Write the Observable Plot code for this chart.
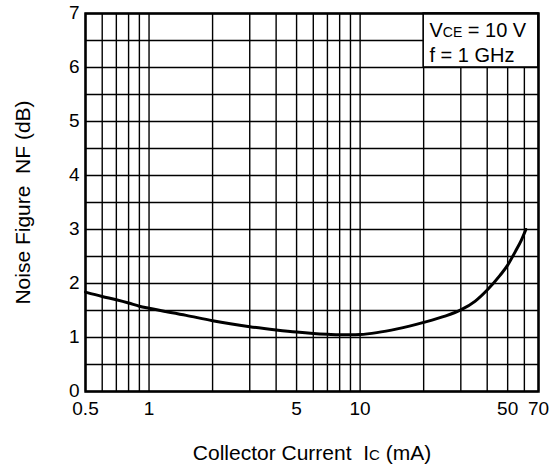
<!DOCTYPE html>
<html>
<head>
<meta charset="utf-8">
<script src="https://cdn.jsdelivr.net/npm/d3@7"></script>
<script src="https://cdn.jsdelivr.net/npm/@observablehq/plot@0.6"></script>
<style>
  html, body { margin: 0; padding: 0; background: #fff; }
  #chart svg { display: block; }
</style>
</head>
<body>
<div id="chart"></div>
<script>
// Collector current (mA) and noise figure (dB)
const collectorCurrent = [0.5, 0.6, 0.7, 0.8, 0.9, 1, 1.5, 2, 3, 4, 5, 6, 7, 8, 9, 10, 12, 15, 20, 25, 30, 35, 40, 46, 50, 54.5, 58, 61];
const noiseFigure      = [1.84, 1.76, 1.70, 1.64, 1.58, 1.54, 1.41, 1.31, 1.20, 1.14, 1.10, 1.075, 1.06, 1.05, 1.05, 1.055, 1.09, 1.16, 1.28, 1.39, 1.51, 1.67, 1.88, 2.15, 2.34, 2.6, 2.8, 3.0];

// Grid and tick labels
const gridX = [0.5, 0.6, 0.7, 0.8, 0.9, 1, 2, 3, 4, 5, 6, 7, 8, 9, 10, 20, 30, 40, 50, 60, 70];
const gridY = [0, 0.5, 1, 1.5, 2, 2.5, 3, 3.5, 4, 4.5, 5, 5.5, 6, 6.5, 7];
const xTickLabels = [0.5, 1, 5, 10, 50, 70];
const yTickLabels = [0, 1, 2, 3, 4, 5, 6, 7];

// Condition box
const boxX = [20, 70];
const boxY = [6, 7];
const conditionLines = ["VCE = 10 V", "f = 1 GHz"];
const conditionY = [6.69, 6.22];

const xLabel = "Collector Current  IC (mA)";
const yLabel = "Noise Figure  NF (dB)";

const data = collectorCurrent.map((x, i) => ({x, y: noiseFigure[i]}));
const conditions = conditionLines.map((t, i) => ({t, y: conditionY[i]}));

const chart = Plot.plot({
  width: 550,
  height: 468,
  marginLeft: 85,
  marginRight: 12,
  marginTop: 13,
  marginBottom: 77,
  style: {fontFamily: "'Liberation Sans', Arial, sans-serif", fontSize: "19px", color: "#000", background: "#fff"},
  x: {type: "log", domain: [0.5, 70], axis: null},
  y: {domain: [0, 7], axis: null},
  marks: [
    Plot.ruleX(gridX, {stroke: "#000", strokeWidth: 1.4}),
    Plot.ruleY(gridY, {stroke: "#000", strokeWidth: 1.4}),
    Plot.rect([{x1: boxX[0], x2: boxX[1], y1: boxY[0], y2: boxY[1]}], {x1: "x1", x2: "x2", y1: "y1", y2: "y2", fill: "#fff", stroke: "#000", strokeWidth: 1.6}),
    Plot.text(conditions, {x: 21.3, y: "y", text: "t", textAnchor: "start", fontSize: 20, fill: "#000"}),
    Plot.line(data, {x: "x", y: "y", curve: "monotone-x", stroke: "#000", strokeWidth: 3}),
    Plot.frame({stroke: "#000", strokeWidth: 2.5}),
    Plot.text(xTickLabels, {x: d => d, text: d => String(d), frameAnchor: "bottom", lineAnchor: "top", dy: 10, fontSize: 19, fill: "#000"}),
    Plot.text(yTickLabels, {y: d => d, text: d => String(d), frameAnchor: "left", textAnchor: "end", lineAnchor: "middle", dx: -6, dy: -1, fontSize: 19, fill: "#000"}),
    Plot.text([xLabel], {frameAnchor: "bottom", textAnchor: "middle", lineAnchor: "bottom", dy: 68, fontSize: 21, fill: "#000"}),
    Plot.text([yLabel], {frameAnchor: "left", textAnchor: "middle", lineAnchor: "middle", dx: -62, rotate: -90, fontSize: 21, fill: "#000"})
  ]
});

// Render subscripts (CE, C) as smaller tspans
function subscriptify(svg, full, pre, sub, post, subSize) {
  d3.select(svg).selectAll("text").each(function() {
    if (this.textContent === full) {
      const t = d3.select(this);
      t.text(null);
      t.append("tspan").text(pre);
      t.append("tspan").attr("font-size", subSize).text(sub);
      t.append("tspan").text(post);
    }
  });
}
subscriptify(chart, "VCE = 10 V", "V", "CE", " = 10 V", 14);
subscriptify(chart, xLabel, "Collector Current  I", "C", " (mA)", 15);

document.getElementById("chart").appendChild(chart);
</script>
</body>
</html>
